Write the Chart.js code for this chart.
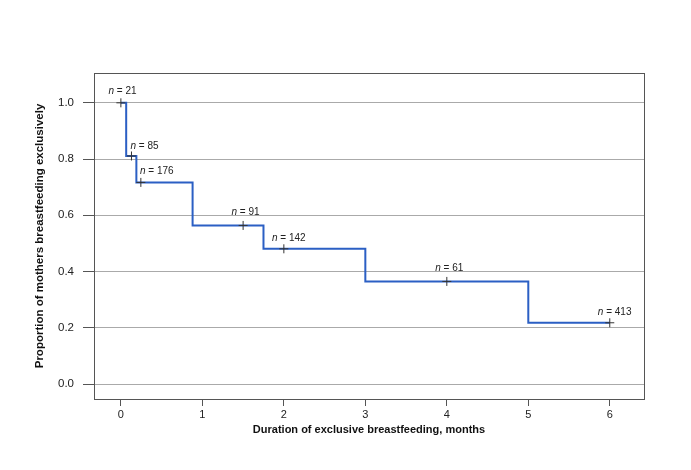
<!DOCTYPE html>
<html>
<head>
<meta charset="utf-8">
<script src="https://cdn.jsdelivr.net/npm/chart.js@4/dist/chart.umd.min.js"></script>
<style>
  html, body { margin: 0; padding: 0; background: #ffffff; }
  #wrap { width: 691px; height: 470px; }
</style>
</head>
<body>
<div id="wrap"><canvas id="c" width="691" height="470"></canvas></div>
<script>
// Step curve: time of each drop (months) and the proportion after it
const stepTimes  = [0, 0.065, 0.19, 0.88, 1.75, 3.0, 5.0, 6.0];
const stepValues = [1.0, 0.811, 0.717, 0.564, 0.481, 0.365, 0.218, 0.218];

// Censor marks (+) with group sizes
const censorTimes  = [0, 0.13, 0.245, 1.5, 2.0, 4.0, 6.0];
const censorValues = [1.0, 0.811, 0.717, 0.564, 0.481, 0.365, 0.218];
const censorN      = ["21", "85", "176", "91", "142", "61", "413"];
// where each "n = ..." label sits (data coordinates of the text centre)
const labelTimes   = [0.02, 0.29, 0.44, 1.53, 2.06, 4.03, 6.06];
const labelValues  = [1.041, 0.845, 0.756, 0.612, 0.518, 0.411, 0.254];

const xTicks = [0, 1, 2, 3, 4, 5, 6];
const yTicks = [0.0, 0.2, 0.4, 0.6, 0.8, 1.0];

const xTitle = "Duration of exclusive breastfeeding, months";
const yTitle = "Proportion of mothers breastfeeding exclusively";

const FONT = "'Liberation Sans', Arial, Helvetica, sans-serif";

const boxPlugin = {
  id: 'box',
  afterDraw(chart) {
    const {ctx, chartArea: a} = chart;
    ctx.save();
    ctx.strokeStyle = '#555555';
    ctx.lineWidth = 1;
    ctx.strokeRect(Math.round(a.left) + 0.5, Math.round(a.top) + 0.5,
                   Math.round(a.right - a.left), Math.round(a.bottom - a.top));
    ctx.restore();
  }
};

const nLabelPlugin = {
  id: 'nlabels',
  afterDatasetsDraw(chart) {
    const {ctx, scales: {x, y}} = chart;
    ctx.save();
    ctx.fillStyle = '#222222';
    ctx.textBaseline = 'middle';
    const italic = "italic 10px " + FONT;
    const normal = "10px " + FONT;
    for (let i = 0; i < censorN.length; i++) {
      const rest = " = " + censorN[i];
      ctx.font = italic;
      const wN = ctx.measureText("n").width;
      ctx.font = normal;
      const wR = ctx.measureText(rest).width;
      const cx = x.getPixelForValue(labelTimes[i]);
      const cy = y.getPixelForValue(labelValues[i]);
      const sx = cx - (wN + wR) / 2;
      ctx.font = italic;
      ctx.textAlign = 'left';
      ctx.fillText("n", sx, cy);
      ctx.font = normal;
      ctx.fillText(rest, sx + wN, cy);
    }
    ctx.restore();
  }
};

new Chart(document.getElementById('c'), {
  type: 'line',
  data: {
    datasets: [
      {
        type: 'line',
        data: stepTimes.map((t, i) => ({x: t, y: stepValues[i]})),
        borderColor: '#2b5fc4',
        borderWidth: 2,
        stepped: 'before',
        pointRadius: 0,
        fill: false,
        order: 2
      },
      {
        type: 'scatter',
        data: censorTimes.map((t, i) => ({x: t, y: censorValues[i]})),
        pointStyle: 'cross',
        pointRadius: 4.5,
        borderColor: '#333333',
        backgroundColor: '#333333',
        borderWidth: 1,
        order: 1
      }
    ]
  },
  options: {
    responsive: false,
    animation: false,
    devicePixelRatio: 1,
    layout: { padding: { top: 73, right: 47, left: 0, bottom: 0 } },
    plugins: { legend: { display: false }, tooltip: { enabled: false } },
    scales: {
      x: {
        type: 'linear',
        min: -0.33,
        max: 6.42,
        afterBuildTicks: s => { s.ticks = xTicks.map(v => ({value: v})); },
        afterFit: s => { s.height = 71; },
        grid: { drawOnChartArea: false, tickLength: 7, tickColor: '#555555', lineWidth: 1 },
        border: { display: false },
        ticks: {
          color: '#222222',
          font: { family: FONT, size: 11 },
          padding: 2,
          maxRotation: 0,
          callback: v => String(v)
        },
        title: {
          display: true,
          text: xTitle,
          color: '#111111',
          font: { family: FONT, size: 11, weight: 'bold' },
          padding: { top: 0, bottom: 33 }
        }
      },
      y: {
        type: 'linear',
        min: -0.053,
        max: 1.106,
        afterBuildTicks: s => { s.ticks = yTicks.map(v => ({value: v})); },
        afterFit: s => { s.width = 94; },
        grid: { color: '#aaaaaa', lineWidth: 1, tickLength: 11, tickColor: '#555555' },
        border: { display: false },
        ticks: {
          color: '#222222',
          font: { family: FONT, size: 11.5 },
          padding: 9,
          callback: v => v.toFixed(1)
        },
        title: {
          display: true,
          text: yTitle,
          color: '#111111',
          font: { family: FONT, size: 11.5, weight: 'bold' },
          padding: { top: 33, bottom: 0 }
        }
      }
    }
  },
  plugins: [boxPlugin, nLabelPlugin]
});
</script>
</body>
</html>
